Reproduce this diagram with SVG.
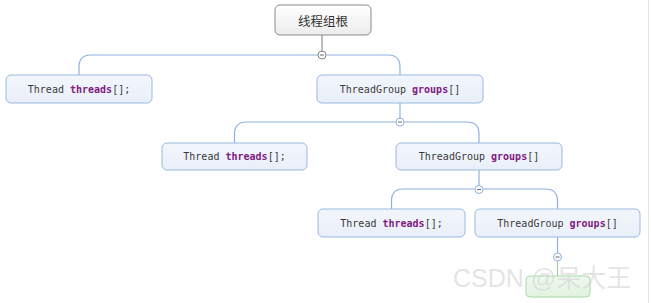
<svg xmlns="http://www.w3.org/2000/svg" width="651" height="303" viewBox="0 0 651 303">
<defs>
<linearGradient id="gRoot" x1="0" y1="0" x2="0" y2="1"><stop offset="0" stop-color="#ffffff"/><stop offset="1" stop-color="#ececec"/></linearGradient>
<linearGradient id="gNode" x1="0" y1="0" x2="0" y2="1"><stop offset="0" stop-color="#f3f6fc"/><stop offset="1" stop-color="#e9eff9"/></linearGradient>
<linearGradient id="gLeaf" x1="0" y1="0" x2="0" y2="1"><stop offset="0" stop-color="#eef9ee"/><stop offset="1" stop-color="#e1f3e1"/></linearGradient>
</defs>
<style>
.node{fill:url(#gNode);stroke:#99b8e0;stroke-width:1}
.code{font-family:"DejaVu Sans Mono","Liberation Mono",monospace;font-size:10px;fill:#3a3a3a;text-anchor:middle}
.kw{fill:#80207f;font-weight:bold}
.conn{fill:none;stroke:#8db2e0;stroke-width:1.2}
.tog{fill:#fff;stroke:#8db2e0;stroke-width:1}
.minus{stroke:#666;stroke-width:1}
</style>
<rect width="651" height="303" fill="#ffffff"/>
<line x1="648.5" y1="0" x2="648.5" y2="303" stroke="#e4e4e4" stroke-width="1"/>
<g id="connectors">
<line x1="322" y1="35" x2="322" y2="51" stroke="#777" stroke-width="1"/>
<path class="conn" d="M79 75 V67 Q79 55 91 55 H388 Q400 55 400 67 V75"/>
<path class="conn" d="M400 103 V118"/>
<path class="conn" d="M234.5 143 V134 Q234.5 122 246.5 122 H467 Q479 122 479 134 V143"/>
<path class="conn" d="M479 170 V186"/>
<path class="conn" d="M391.5 209 V201 Q391.5 189 403.5 189 H545.5 Q557.5 189 557.5 201 V209"/>
<path class="conn" d="M557.5 237 V253"/>
<line x1="557.5" y1="261" x2="557.5" y2="276" stroke="#9ed49e" stroke-width="1.2"/>
<circle cx="322" cy="55" r="4" fill="#fff" stroke="#888"/>
<line class="minus" x1="320" y1="55" x2="324" y2="55"/>
<circle class="tog" cx="400" cy="122" r="4"/>
<line class="minus" x1="398" y1="122" x2="402" y2="122"/>
<circle class="tog" cx="479" cy="189.5" r="4"/>
<line class="minus" x1="477" y1="189.5" x2="481" y2="189.5"/>
<circle class="tog" cx="557.5" cy="257" r="4"/>
<line class="minus" x1="555.5" y1="257" x2="559.5" y2="257"/>
</g>
<g id="root">
<rect x="275" y="5" width="96" height="30" rx="5" fill="url(#gRoot)" stroke="#8a8a8a"/>
<text x="323" y="25.5" font-family="'Noto Sans CJK SC',sans-serif" font-size="12.5" fill="#333" text-anchor="middle">线程组根</text>
</g>
<g id="n1">
<rect class="node" x="6" y="75" width="146" height="28" rx="5"/>
<text class="code" x="79" y="92.5">Thread <tspan class="kw">threads</tspan>[];</text>
</g>
<g id="n2">
<rect class="node" x="317" y="75" width="166" height="28" rx="5"/>
<text class="code" x="400" y="92.5">ThreadGroup <tspan class="kw">groups</tspan>[]</text>
</g>
<g id="n3">
<rect class="node" x="162" y="143" width="145" height="27" rx="5"/>
<text class="code" x="234.5" y="160">Thread <tspan class="kw">threads</tspan>[];</text>
</g>
<g id="n4">
<rect class="node" x="396" y="143" width="166" height="27" rx="5"/>
<text class="code" x="479" y="160">ThreadGroup <tspan class="kw">groups</tspan>[]</text>
</g>
<g id="n5">
<rect class="node" x="318" y="209" width="147" height="28" rx="5"/>
<text class="code" x="391.5" y="226.5">Thread <tspan class="kw">threads</tspan>[];</text>
</g>
<g id="n6">
<rect class="node" x="475" y="209" width="165" height="28" rx="5"/>
<text class="code" x="557.5" y="226.5">ThreadGroup <tspan class="kw">groups</tspan>[]</text>
</g>
<g id="n7">
<rect x="526" y="276" width="64" height="21" rx="4" fill="url(#gLeaf)" stroke="#a8d8a8"/>
</g>
<text x="453" y="287" font-family="'Liberation Sans','Noto Sans CJK SC',sans-serif" font-size="25" fill="#d8d8d8" fill-opacity="0.7">CSDN @呆大王</text>
</svg>
